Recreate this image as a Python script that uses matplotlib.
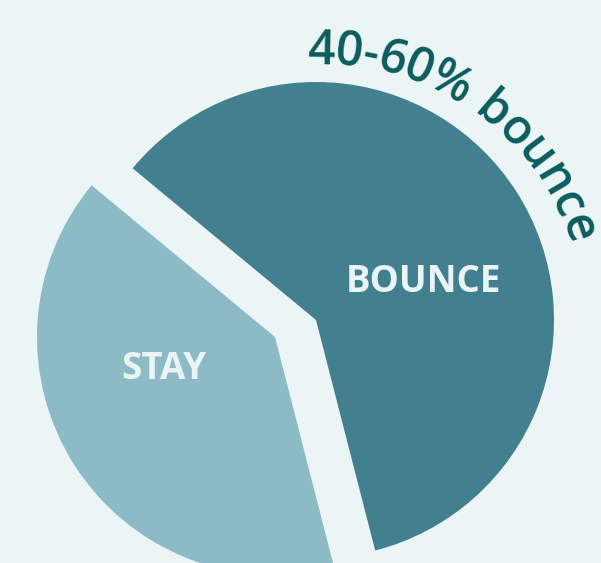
import numpy as np
import matplotlib.pyplot as plt
from matplotlib.font_manager import FontProperties

# data
labels = ["BOUNCE", "STAY"]
shares = [60, 40]
colors = ["#43808F", "#8CBBC6"]
arc_text = "40-60% bounce"

bg = "#EBF5F6"
px_per_unit = 238.0  # pie radius in pixels

fig = plt.figure(figsize=(6.01, 5.63), dpi=100)
fig.patch.set_facecolor(bg)
ax = fig.add_axes([0, 0, 1, 1])
ax.set_facecolor(bg)

wedges, _ = ax.pie(shares, colors=colors, startangle=140.4,
                   counterclock=False, radius=1, center=(0, 0),
                   wedgeprops=dict(linewidth=0))
# pull the STAY slice out (slightly left of its bisector, like the original)
wedges[1].set_center((-41 / px_per_unit, -17 / px_per_unit))

# pie centre sits at pixel (316, 320) from top-left
cx, cy = 316, 320
ax.set_xlim(-cx / px_per_unit, (601 - cx) / px_per_unit)
ax.set_ylim(-(563 - cy) / px_per_unit, cy / px_per_unit)
ax.set_aspect("auto")
ax.axis("off")

lab_font = dict(family=["Open Sans", "DejaVu Sans"], weight="bold",
                fontsize=26.5, color="#EAF4F5", ha="center", va="center")
ax.text(107 / px_per_unit, 38 / px_per_unit, labels[0], **lab_font)
ax.text(-152 / px_per_unit, -49 / px_per_unit, labels[1], **lab_font)

# curved text, drifting slightly outward as it goes (like the original)
prop = FontProperties(family=["Open Sans", "DejaVu Sans"], size=34.5,
                      weight="semibold")
renderer = fig.canvas.get_renderer()
tracking = 0.98

def width(s):
    if not s:
        return 0.0
    w, h, d = renderer.get_text_width_height_descent(s, prop, ismath=False)
    return w * tracking

total = width(arc_text)
R0, R1 = 255.0, 264.0
theta0 = np.radians(92)
for i, ch in enumerate(arc_text):
    a = width(arc_text[:i])
    b = width(arc_text[:i + 1])
    s = (a + b) / 2
    r = R0 + (R1 - R0) * s / total
    th = theta0 - s / ((R0 + r) / 2)
    if ch == " ":
        continue
    rr = r / px_per_unit
    ax.text(rr * np.cos(th), rr * np.sin(th), ch, fontproperties=prop,
            color="#0C5C5E", ha="center", va="baseline",
            rotation=np.degrees(th) - 90, rotation_mode="anchor")

fig.savefig("out.png", dpi=100, facecolor=bg)
